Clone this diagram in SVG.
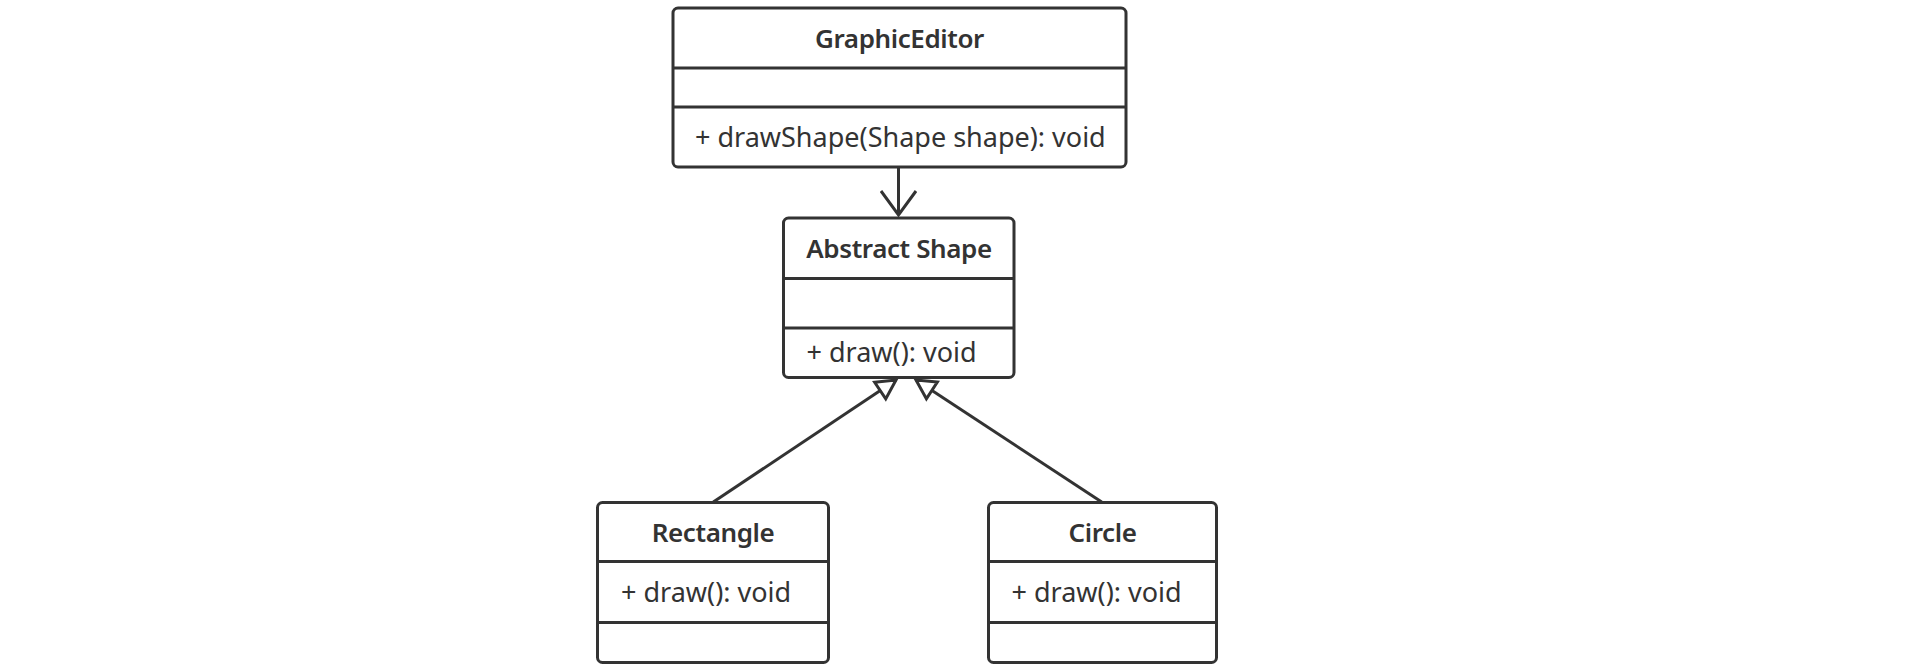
<svg xmlns="http://www.w3.org/2000/svg" width="1932" height="668" viewBox="0 0 1932 668">
<defs>
<style>
.box{fill:#ffffff;stroke:#333333;stroke-width:3}
.div{stroke:#333333;stroke-width:3}
.title{font-family:"Noto Sans","Open Sans",sans-serif;font-weight:600;font-size:26px;letter-spacing:-0.4px;fill:#333333;text-anchor:middle}
.member{font-family:"Noto Sans","Open Sans",sans-serif;font-size:27px;fill:#333333}
.edge{stroke:#333333;stroke-width:3;fill:none}
</style>
<marker id="open" viewBox="0 0 28 38" refX="25" refY="19" markerWidth="28" markerHeight="38" markerUnits="userSpaceOnUse" orient="auto">
<path d="M1,1.5 L25,19 L1,36.5" fill="none" stroke="#333333" stroke-width="3"/>
</marker>
<marker id="tri" viewBox="0 0 24 26" refX="21" refY="13" markerWidth="24" markerHeight="26" markerUnits="userSpaceOnUse" orient="auto">
<path d="M2,3 L21,13 L2,23 Z" fill="#ffffff" stroke="#333333" stroke-width="3"/>
</marker>
</defs>
<rect width="1932" height="668" fill="#ffffff"/>
<g id="connectors">
<line class="edge" x1="898.5" y1="167" x2="898.5" y2="215" marker-end="url(#open)"/>
<line class="edge" x1="713.3" y1="502" x2="896" y2="380" marker-end="url(#tri)"/>
<line class="edge" x1="1101.7" y1="502" x2="916" y2="380" marker-end="url(#tri)"/>
</g>
<g id="GraphicEditor">
<rect class="box" x="673" y="8" width="453" height="159" rx="5"/>
<line class="div" x1="673" y1="68" x2="1126" y2="68"/>
<line class="div" x1="673" y1="107" x2="1126" y2="107"/>
<text class="title" x="899.5" y="48">GraphicEditor</text>
<text class="member" x="695" y="147">+ drawShape(Shape shape): void</text>
</g>
<g id="AbstractShape">
<rect class="box" x="783.5" y="218" width="230.5" height="159.5" rx="5"/>
<line class="div" x1="783.5" y1="278.5" x2="1014" y2="278.5"/>
<line class="div" x1="783.5" y1="328" x2="1014" y2="328"/>
<text class="title" x="899" y="258">Abstract Shape</text>
<text class="member" x="806.5" y="362">+ draw(): void</text>
</g>
<g id="Rectangle">
<rect class="box" x="597.5" y="502.5" width="231" height="160" rx="5"/>
<line class="div" x1="597.5" y1="561.5" x2="828.5" y2="561.5"/>
<line class="div" x1="597.5" y1="622.5" x2="828.5" y2="622.5"/>
<text class="title" x="713" y="542">Rectangle</text>
<text class="member" x="621" y="602">+ draw(): void</text>
</g>
<g id="Circle">
<rect class="box" x="988.5" y="502.5" width="228" height="160" rx="5"/>
<line class="div" x1="988.5" y1="561.5" x2="1216.5" y2="561.5"/>
<line class="div" x1="988.5" y1="622.5" x2="1216.5" y2="622.5"/>
<text class="title" x="1102.5" y="542">Circle</text>
<text class="member" x="1011.5" y="602">+ draw(): void</text>
</g>
</svg>
